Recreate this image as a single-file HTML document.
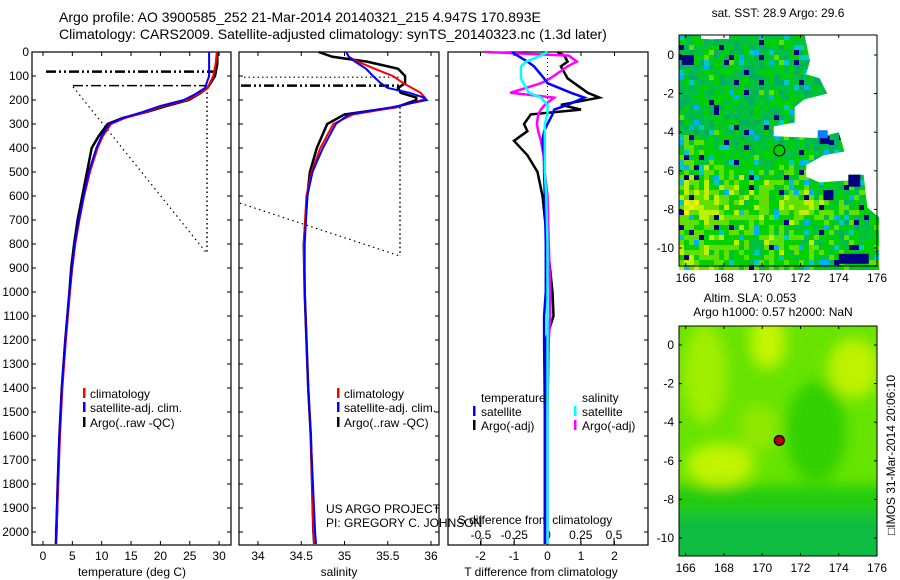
<!DOCTYPE html>
<html><head><meta charset="utf-8"><style>
body{margin:0;background:#fff;}
svg{display:block;font-family:"Liberation Sans",sans-serif;}
text{fill:#000;}
</style></head><body>
<svg id="fig" width="900" height="580" viewBox="0 0 900 580">
<g id="g"></g>
</svg>
<script>
// ---- data ----
const depthsT = [0,50,100,150,175,200,225,250,275,300,350,400,500,600,700,800,900,1000,1200,1400,1600,1800,2000,2050];
const tempClim = [29.6,29.4,29.0,28.0,26.5,24.5,20.5,17.5,14.0,11.6,10.2,9.3,8.0,7.0,6.2,5.5,5.0,4.6,3.9,3.3,2.9,2.6,2.3,2.2];
const tempSat  = [28.3,28.3,28.3,27.6,26.0,24.0,20.0,17.0,13.6,11.3,10.0,9.1,7.8,6.9,6.1,5.4,4.9,4.5,3.8,3.2,2.8,2.5,2.2,2.2];
const tempArgo = [29.7,29.7,29.3,28.0,26.6,24.8,21.0,17.6,13.6,11.0,9.5,8.3,7.5,6.7,5.9,5.3,4.8,4.5,3.8,3.2,2.8,2.5,2.3,2.2];
const depthsS = [0,20,40,70,100,130,150,170,190,200,230,260,300,400,500,600,800,1000,1400,1600,2000,2050];
const salClim = [35.02,35.05,35.15,35.35,35.56,35.68,35.78,35.88,35.93,35.9,35.6,35.1,34.87,34.72,34.62,34.56,34.53,34.54,34.58,34.61,34.64,34.65];
const salSat  = [35.02,35.05,35.12,35.25,35.33,35.42,35.5,35.75,35.92,35.95,35.55,35.05,34.9,34.75,34.63,34.57,34.54,34.54,34.58,34.61,34.66,34.67];
const salArgo = [34.70,34.86,35.26,35.62,35.70,35.70,35.62,35.65,35.83,35.83,35.6,35.0,34.8,34.68,34.6,34.57,34.53,34.54,34.58,34.61,34.64,34.65];
const depthsD = [0,15,40,60,110,130,170,190,220,240,260,300,330,370,430,500,600,800,1000,1100,1200,1500,2050];
const dTsat  = [-1.06,-0.9,-0.6,-0.4,-0.1,0.0,0.7,1.1,0.6,0.2,0.15,0.0,-0.1,-0.15,-0.1,-0.1,-0.08,-0.05,-0.05,-0.1,-0.1,-0.08,-0.08];
const dTargo = [0.3,0.5,0.6,0.4,0.6,0.8,1.2,1.55,0.4,1.0,-0.5,-0.7,-0.6,-1.0,-0.6,-0.3,-0.15,0.0,0.15,0.18,-0.05,-0.02,-0.02];
const dSsat  = [0.0,-0.05,-0.16,-0.2,-0.2,-0.18,-0.14,-0.05,0.0,0.0,0.0,-0.02,-0.02,-0.02,-0.02,-0.02,-0.01,0.0,0.0,0.0,0.0,0.0,0.0];
const dSargo = [-0.47,0.16,0.22,0.15,0.02,-0.05,-0.28,0.05,-0.02,-0.05,-0.07,-0.08,-0.07,-0.05,-0.03,-0.02,0.0,0.01,0.02,0.02,0.01,0.0,0.0];
const depthTicks = [0,100,200,300,400,500,600,700,800,900,1000,1100,1200,1300,1400,1500,1600,1700,1800,1900,2000];
const tempTicks = [0,5,10,15,20,25,30];
const salTicks = [34,34.5,35,35.5,36];
const dTTicks = [-2,-1,0,1,2];
const dSTicks = [-0.5,-0.25,0,0.25,0.5];
const dSTickLabels = ["-0.5","-0.25","0","0.25","0.5"];
const latTicks = [0,-2,-4,-6,-8,-10];
const lonTicks = [166,168,170,172,174,176];
const argoLon = 170.893, argoLat = -4.947;

// ---- helpers ----
const NS="http://www.w3.org/2000/svg";
const G=document.getElementById('g');
function el(tag,attrs,parent){const e=document.createElementNS(NS,tag);for(const k in attrs)e.setAttribute(k,attrs[k]);(parent||G).appendChild(e);return e;}
function txt(x,y,s,anchor,size,name){const t=el('text',{x:x,y:y,'font-size':size||12,'text-anchor':anchor||'start'});t.textContent=s;


return t;}
const yD = d => 52 + d*0.24;
const xT = v => 43 + v*5.87;
const xS = v => 258 + (v-34)*86.5;
const xDT = v => 547.5 + v*33.5;
const xDS = v => 547.5 + v*133;

function line(xs,ys,color,w,name,dash){
  const pts=xs.map((x,i)=>x.toFixed(1)+','+ys[i].toFixed(1)).join(' ');
  const p=el('polyline',{points:pts,fill:'none',stroke:color,'stroke-width':w||2});
  if(dash)p.setAttribute('stroke-dasharray',dash);
  
  
  return p;
}
function frame(x0,x1,name){
  const r=el('rect',{x:x0,y:52,width:x1-x0,height:493,fill:'none',stroke:'#000','stroke-width':1.2});
  
  
}
function seg(x1,y1,x2,y2,w,dash,name){const l=el('line',{x1:x1,y1:y1,x2:x2,y2:y2,stroke:'#000','stroke-width':w||1});if(dash)l.setAttribute('stroke-dasharray',dash);


return l;}

// titles
txt(59,22,"Argo profile: AO 3900585_252 21-Mar-2014 20140321_215 4.947S 170.893E","start",14,"title-line-1");
txt(59,39,"Climatology: CARS2009. Satellite-adjusted climatology: synTS_20140323.nc (1.3d later)","start",14,"title-line-2");

// ---- panel 1: temperature ----
frame(32,231,'temperature-panel');
depthTicks.forEach(d=>{seg(32,yD(d),36,yD(d),1,null,'depth-tick');seg(227,yD(d),231,yD(d),1,null,'depth-tick');txt(29,yD(d)+4,String(d),'end',12,'depth-tick-label');});
tempTicks.forEach(v=>{seg(xT(v),545,xT(v),541,1,null,'temp-tick');seg(xT(v),52,xT(v),56,1,null,'temp-tick');txt(xT(v),560,String(v),'middle',12,'temp-tick-label');});
txt(132,576,"temperature (deg C)","middle",12,"x-axis-title-temperature");
seg(46,yD(82),216,yD(82),2.5,"10,3,2,3,2,3",'qc-line-1');
seg(73,yD(140),207,yD(140),1.5,"10,3,2,3",'qc-line-2');
seg(73,yD(145),207,yD(840),1.2,"1.5,3.5",'dotted-diagonal');
seg(207,yD(150),207,yD(840),1.5,"1.5,3",'dotted-vertical');
line(tempArgo.map(xT),depthsT.map(yD),'#000',2.5,'argo-temperature-line');
line(tempClim.map(xT),depthsT.map(yD),'#f00',2,'climatology-temperature-line');
line(tempSat.map(xT),depthsT.map(yD),'#00f',2,'satellite-temperature-line');
[['#f00','climatology',398],['#00f','satellite-adj. clim.',412],['#000','Argo(..raw -QC)',427]].forEach(([c,s,y])=>{
  const r=el('rect',{x:83,y:y-10,width:2.5,height:10,fill:c});
  
  
  txt(90,y,s,'start',12,'legend-entry');
});

// ---- panel 2: salinity ----
frame(239,439,'salinity-panel');
depthTicks.forEach(d=>{seg(239,yD(d),243,yD(d),1,null,'depth-tick');seg(435,yD(d),439,yD(d),1,null,'depth-tick');});
salTicks.forEach(v=>{seg(xS(v),545,xS(v),541,1,null,'sal-tick');seg(xS(v),52,xS(v),56,1,null,'sal-tick');txt(xS(v),560,String(v),'middle',12,'sal-tick-label');});
txt(339,576,"salinity","middle",12,"x-axis-title-salinity");
seg(244,yD(105),400,yD(105),1.2,"1.5,3",'qc-dotted');
seg(241,yD(140),402,yD(140),2.5,"10,3,2,3,2,3",'qc-line-sal');
seg(240,yD(630),400,yD(850),1.2,"1.5,3.5",'dotted-diagonal-sal');
seg(400,yD(230),400,yD(850),1.5,"1.5,3",'dotted-vertical-sal');
line(salArgo.map(xS),depthsS.map(yD),'#000',2.5,'argo-salinity-line');
line(salClim.map(xS),depthsS.map(yD),'#f00',2,'climatology-salinity-line');
line(salSat.map(xS),depthsS.map(yD),'#00f',2,'satellite-salinity-line');
[['#f00','climatology',398],['#00f','satellite-adj. clim.',412],['#000','Argo(..raw -QC)',427]].forEach(([c,s,y])=>{
  const r=el('rect',{x:337,y:y-10,width:2.5,height:10,fill:c});
  
  
  txt(344,y,s,'start',12,'legend-entry');
});
txt(326,513,"US ARGO PROJECT","start",12,"project-label");
txt(326,527,"PI: GREGORY C. JOHNSON","start",12,"pi-label");

// ---- panel 3: differences ----
frame(448,648,'difference-panel');
dTTicks.forEach(v=>{seg(xDT(v),545,xDT(v),541,1,null,'dt-tick');seg(xDT(v),52,xDT(v),56,1,null,'dt-tick');txt(xDT(v),560,String(v),'middle',12,'dt-tick-label');});
dSTicks.forEach((v,i)=>{seg(xDS(v),545,xDS(v),538,1,null,'ds-tick');txt(xDS(v),539,dSTickLabels[i],'middle',12,'ds-tick-label');});
depthTicks.forEach(d=>{seg(644,yD(d),648,yD(d),1,null,'depth-tick');});
txt(535,524,"S difference from climatology","middle",12,"s-diff-axis-title");
txt(541,576,"T difference from climatology","middle",12,"t-diff-axis-title");
seg(547.5,54,547.5,yD(250),1,"1,3",'zero-line');
line(dTargo.map(xDT),depthsD.map(yD),'#000',2.5,'argo-temperature-difference');
line(dSargo.map(xDS),depthsD.map(yD),'#f0f',2.5,'argo-salinity-difference');
line(dTsat.map(xDT),depthsD.map(yD),'#00f',2.5,'satellite-temperature-difference');
line(dSsat.map(xDS),depthsD.map(yD),'#0ff',2.5,'satellite-salinity-difference');
txt(481,402,"temperature","start",12,"legend-heading-temperature");
txt(582,402,"salinity","start",12,"legend-heading-salinity");
[['#00f',473,'satellite',416],['#000',473,'Argo(-adj)',430],['#0ff',574,'satellite',416],['#f0f',574,'Argo(-adj)',430]].forEach(([c,x,s,y])=>{
  const r=el('rect',{x:x,y:y-10,width:2.5,height:10,fill:c});
  
  
  txt(x+8,y,s,'start',12,'legend-entry');
});

// ---- maps ----
const MX0=679,MX1=877,LON0=165.65,LON1=176;
const mx = lon => MX0 + (lon-LON0)*(MX1-MX0)/(LON1-LON0);
function mapAxes(top,bot,lat0px,name){
  const my = lat => lat0px - lat*19.3;
  const r=el('rect',{x:MX0,y:top,width:MX1-MX0,height:bot-top,fill:'none',stroke:'#000','stroke-width':1});
  
  
  latTicks.forEach(l=>{seg(MX0,my(l),MX0+3,my(l),1,null,'lat-tick');seg(MX1-3,my(l),MX1,my(l),1,null,'lat-tick');txt(MX0-5,my(l)+4,String(l),'end',12,'lat-tick-label');});
  lonTicks.forEach(l=>{seg(mx(l),bot,mx(l),bot-3,1,null,'lon-tick');seg(mx(l),top,mx(l),top+3,1,null,'lon-tick');txt(mx(l),bot+16,String(l),'middle',12,'lon-tick-label');});
  return my;
}
// map 1: SST
const my1 = lat => 55 - lat*19.3;
const pal=['#000080','#0050ff','#00b0ff','#00c8c8','#00b060','#00c040','#00d000','#60e000','#c0f000','#f0f000','#ffa000'];
const m1=el('g',{});


function h(i,j){let n=(i*73856093)^(j*19349663);n=(n^(n>>13))*1274126177;n=n^(n>>16);return ((n>>>0)%1000)/1000;}
function h2(i,j){return h(j+101,i+37);}
const cs=5;
for(let i=0;i<40;i++){for(let j=0;j<47;j++){
  const x=MX0+i*cs,y=35+j*cs;
  const r=h(i,j);const r2=h2(i,j);const lat=(55-y)/19.3;const lon=LON0+(x-MX0)/19.1;
  let base=5.2 + Math.max(0,Math.min(1.6,(-lat-4.5)/2)) + Math.max(0,(169-lon)/4)*(lat<-4?1:0) - (lon>172.5?0.6:0) - (lat<-8.5?0.5:0);
  let k=Math.round(base+(r-0.5)*2.4+(r2-0.5)*1.2);
  if(r>0.97)k=0; else if(r>0.935)k=2; else if(r<0.04)k=3;
  k=Math.max(0,Math.min(9,k));
  el('rect',{x:x,y:y,width:cs,height:cs,fill:pal[k]},m1);
}}
const white=[[172.2,1.1],[172.5,-0.3],[172.3,-1.0],[173,-1.2],[173.4,-2.0],[172.2,-2.3],[171.7,-2.7],[171.7,-3.5],[170.6,-3.7],[170.6,-4.2],[172.8,-4.3],[174,-4.0],[174.3,-5.0],[173.2,-5.2],[172.3,-5.7],[172.3,-6.3],[173,-6.6],[174.5,-6.5],[174.8,-6.2],[175.3,-6.2],[175.5,-7.9],[176.1,-8.4],[176.1,1.1]];
const wp=el('polygon',{points:white.map(p=>mx(p[0]).toFixed(1)+','+my1(p[1]).toFixed(1)).join(' '),fill:'#fff'},m1);


[[173.0,-4.2,'#000080',10,8],[174.5,-6.2,'#000080',12,12],[174.0,-10.3,'#000080',30,10],[172.9,-3.9,'#0080ff',10,8],[165.8,0.0,'#000080',12,10],[173.2,-7.0,'#000080',10,10]].forEach(p=>{
  el('rect',{x:mx(p[0]),y:my1(p[1]),width:p[3],height:p[4],fill:p[2]},m1);
});
el('rect',{x:mx(166.8),y:35,width:28,height:4,fill:'#fff'},m1);
mapAxes(35,266,55,'sst-map-frame');
const c1=el('circle',{cx:mx(argoLon),cy:my1(argoLat),r:5.5,fill:'#00d000',stroke:'#000','stroke-width':1});


txt(778,17,"sat. SST: 28.9 Argo: 29.6","middle",12,"sst-map-title");

// map 2: SLA
const my2 = lat => 345 - lat*19.3;
const defs=el('defs',{});
const f=el('filter',{id:'bl',x:'-50%',y:'-50%',width:'200%',height:'200%'},defs);
el('feGaussianBlur',{stdDeviation:7},f);
const cp=el('clipPath',{id:'cp2'},defs);
el('rect',{x:MX0,y:326,width:MX1-MX0,height:230},cp);
const m2=el('g',{'clip-path':'url(#cp2)'});


el('rect',{x:MX0,y:326,width:198,height:230,fill:'#66e400'},m2);
const bl=el('g',{filter:'url(#bl)'},m2);
el('rect',{x:MX0-20,y:my2(-7.3),width:240,height:80,fill:'#22cc10'},bl);
el('rect',{x:MX0-20,y:my2(-8.8),width:240,height:60,fill:'#10bc40'},bl);
el('ellipse',{cx:mx(172.8),cy:my2(-4.5),rx:30,ry:50,fill:'#30d000'},bl);
el('ellipse',{cx:mx(167),cy:my2(-1.5),rx:22,ry:50,fill:'#a0ee00'},bl);
el('ellipse',{cx:mx(170.3),cy:my2(0.2),rx:18,ry:28,fill:'#c4f400'},bl);
el('ellipse',{cx:mx(174.8),cy:my2(-1.2),rx:26,ry:30,fill:'#bef200'},bl);
el('ellipse',{cx:mx(167.8),cy:my2(-6.2),rx:34,ry:22,fill:'#c0f400'},bl);
el('ellipse',{cx:mx(169.8),cy:my2(-4.3),rx:20,ry:24,fill:'#90e800'},bl);
mapAxes(326,556,345,'sla-map-frame');
const c2=el('circle',{cx:mx(argoLon),cy:my2(argoLat),r:5,fill:'#b00000',stroke:'#000','stroke-width':1.2});


txt(750,302,"Altim. SLA: 0.053","middle",12,"sla-map-title-1");
txt(773,316,"Argo h1000: 0.57 h2000: NaN","middle",12,"sla-map-title-2");
const v=txt(0,0,"\u25A1IMOS 31-Mar-2014 20:06:10","middle",12,"timestamp-label");
v.setAttribute('transform','translate(895,455) rotate(-90)');
</script>
</body></html>
